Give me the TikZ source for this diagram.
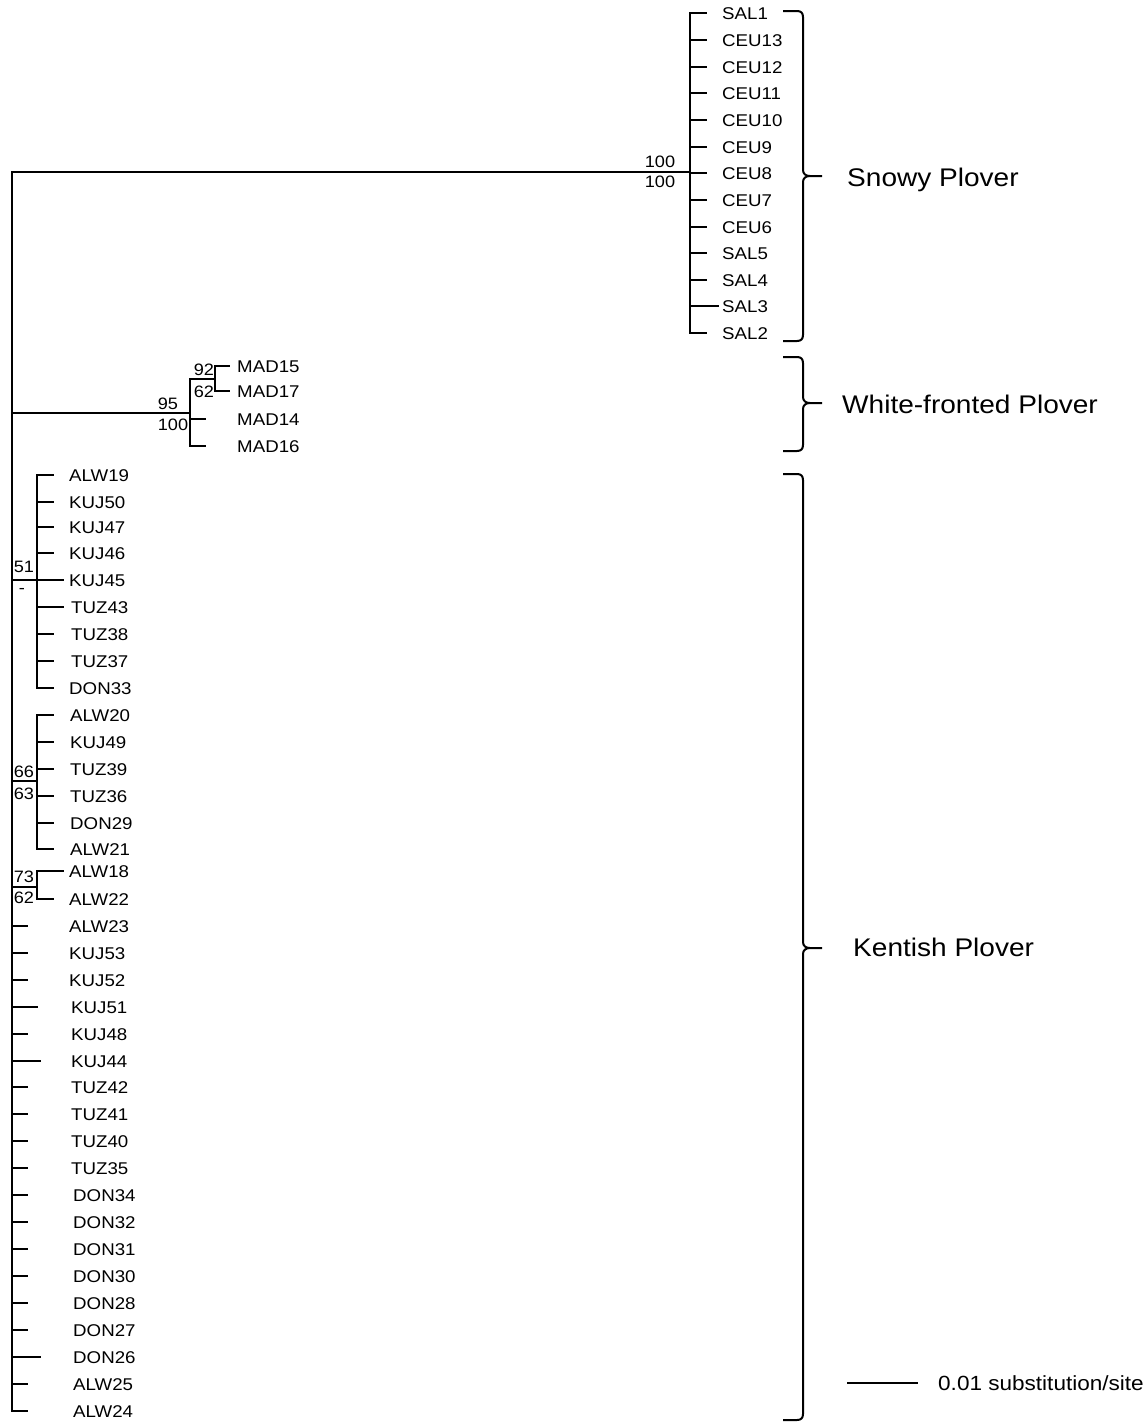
\documentclass[tikz,border=0pt]{standalone}
\usepackage{fontspec}
\setmainfont{Liberation Sans}[FakeStretch=1.1]
\begin{document}
\begin{tikzpicture}[x=1pt,y=-1pt,
  br/.style={line width=2pt,line cap=rect},
  brk/.style={line width=2pt,line cap=butt},
  tip/.style={anchor=west,inner sep=0pt,font=\fontsize{17}{17}\selectfont,text height=12.2pt,text depth=0pt},
  bs/.style={anchor=center,inner sep=0pt,font=\fontsize{16.5}{16.5}\selectfont,text height=11.8pt,text depth=0pt},
  clade/.style={anchor=west,inner sep=0pt,font=\fontsize{25.5}{25.5}\selectfont,text height=18.3pt,text depth=0pt},
  scl/.style={anchor=west,inner sep=0pt,font=\fontsize{20.5}{20.5}\selectfont,text height=14.7pt,text depth=0pt}]
\useasboundingbox (0,0) rectangle (1148,1422);

% root
\coordinate (root) at (12,172);

% ---------- Snowy Plover ----------
\coordinate (snow) at (690,172);
\draw[br] (root) -- (snow);
\foreach \n/\y/\g in {SAL1/13/16,CEU13/40/16,CEU12/67/16,CEU11/93/16,CEU10/120/16,CEU9/147/16,CEU8/173/16,CEU7/200/16,CEU6/227/16,SAL5/253/16,SAL4/280/16,SAL3/306/4,SAL2/333/16}{
  \node[tip] (\n) at (722,\y) {\n};
  \draw[br] (snow |- \n.west) -- ([xshift=-\g pt]\n.west);
}
\draw[br] (snow |- SAL1.west) -- (snow |- SAL2.west);
\node[bs] (s100a) at (660,162) {100};
\node[bs] (s100b) at (660,182) {100};

% ---------- White-fronted Plover ----------
\coordinate (wf) at (190,413);
\coordinate (wfa) at (215,379);
\draw[br] (root |- wf) -- (wf);
\node[tip] (MAD15) at (237,366) {MAD15};
\node[tip] (MAD17) at (237,391) {MAD17};
\node[tip] (MAD14) at (237,419) {MAD14};
\node[tip] (MAD16) at (237,446) {MAD16};
\draw[br] (wf |- wfa) -- (wfa);
\draw[br] (wfa |- MAD15.west) -- ([xshift=-8pt]MAD15.west);
\draw[br] (wfa |- MAD17.west) -- ([xshift=-8pt]MAD17.west);
\draw[br] (wfa |- MAD15.west) -- (wfa |- MAD17.west);
\draw[br] (wf |- MAD14.west) -- ([xshift=-32pt]MAD14.west);
\draw[br] (wf |- MAD16.west) -- ([xshift=-32pt]MAD16.west);
\draw[br] (wf |- wfa) -- (wf |- MAD16.west);
\node[bs] (s92) at (204,370) {92};
\node[bs] (s62a) at (204,392) {62};
\node[bs] (s95) at (168,404) {95};
\node[bs] (s100c) at (173,425) {100};

% ---------- Kentish Plover ----------
% clade 1
\coordinate (k1) at (37,580);
\foreach \n/\y/\lx/\g in {ALW19/475/69/16,KUJ50/502/69/16,KUJ47/527/69/16,KUJ46/553/69/16,KUJ45/580/69/6,TUZ43/607/71/8,TUZ38/634/71/18,TUZ37/661/71/18,DON33/688/69/16}{
  \node[tip] (\n) at (\lx,\y) {\n};
  \draw[br] (k1 |- \n.west) -- ([xshift=-\g pt]\n.west);
}
\draw[br] (k1 |- ALW19.west) -- (k1 |- DON33.west);
\draw[br] (root |- k1) -- (k1);
\node[bs] (s51) at (24,567) {51};
\node[bs] (sdash) at (22,588) {-};

% clade 2
\coordinate (k2) at (37,781);
\foreach \n/\y/\lx/\g in {ALW20/715/70/17,KUJ49/742/70/17,TUZ39/769/70/17,TUZ36/796/70/17,DON29/823/70/17,ALW21/849/70/17}{
  \node[tip] (\n) at (\lx,\y) {\n};
  \draw[br] (k2 |- \n.west) -- ([xshift=-\g pt]\n.west);
}
\draw[br] (k2 |- ALW20.west) -- (k2 |- ALW21.west);
\draw[br] (root |- k2) -- (k2);
\node[bs] (s66) at (24,772) {66};
\node[bs] (s63) at (24,794) {63};

% clade 3
\coordinate (k3) at (37,887);
\foreach \n/\y/\lx/\g in {ALW18/871/69/6,ALW22/899/69/16}{
  \node[tip] (\n) at (\lx,\y) {\n};
  \draw[br] (k3 |- \n.west) -- ([xshift=-\g pt]\n.west);
}
\draw[br] (k3 |- ALW18.west) -- (k3 |- ALW22.west);
\draw[br] (root |- k3) -- (k3);
\node[bs] (s73) at (24,877) {73};
\node[bs] (s62b) at (24,898) {62};

% tips directly on root
\foreach \n/\y/\lx/\g in {ALW23/926/69/42,KUJ53/953/69/42,KUJ52/980/69/42,KUJ51/1007/71/34,KUJ48/1034/71/44,KUJ44/1061/71/31,TUZ42/1087/71/44,TUZ41/1114/71/44,TUZ40/1141/71/44,TUZ35/1168/71/44,DON34/1195/73/46,DON32/1222/73/46,DON31/1249/73/46,DON30/1276/73/46,DON28/1303/73/46,DON27/1330/73/46,DON26/1357/73/33,ALW25/1384/73/46,ALW24/1411/73/46}{
  \node[tip] (\n) at (\lx,\y) {\n};
  \draw[br] (root |- \n.west) -- ([xshift=-\g pt]\n.west);
}
% root vertical line
\draw[br] (root) -- (root |- ALW24.west);

% ---------- brackets ----------
\foreach \t/\m/\b in {11/176/341,357/403/451,474/948/1420}{
  \draw[brk] (783,\t) -- (797,\t) .. controls (801,\t) and (803,\t+2) .. (803,\t+6)
    -- (803,\m-6) .. controls (803,\m-2) and (806,\m) .. (810,\m) -- (822,\m)
    (810,\m) .. controls (806,\m) and (803,\m+2) .. (803,\m+6)
    -- (803,\b-6) .. controls (803,\b-2) and (801,\b) .. (797,\b) -- (783,\b);
}
\node[clade] (snowy) at (847,177) {Snowy Plover};
\node[clade] (white) at (842,404) {White-fronted Plover};
\node[clade] (kent) at (853,947) {Kentish Plover};

% ---------- scale bar ----------
\coordinate (sbA) at (847,1383);
\coordinate (sbB) at (918,1383);
\draw[br,line cap=butt] (sbA) -- (sbB);
\node[scl] (sbt) at (938,1383) {0.01 substitution/site};
\end{tikzpicture}
\end{document}
